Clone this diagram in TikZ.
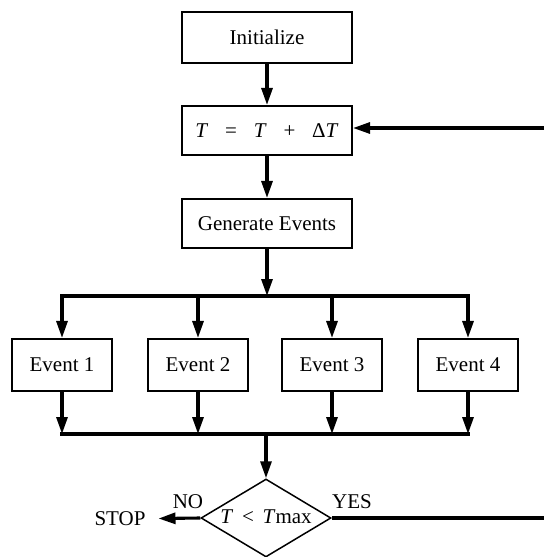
\documentclass[tikz,border=0pt]{standalone}
\usepackage{fontspec}
\setmainfont{Liberation Serif}
\usetikzlibrary{shapes.geometric,arrows.meta}
\tikzset{
  box/.style={draw, line width=2.1pt, minimum width=170pt, minimum height=49pt, inner sep=0pt, font=\fontsize{21}{25}\selectfont},
  evbox/.style={draw, line width=2.1pt, minimum width=100pt, minimum height=52pt, inner sep=0pt, font=\fontsize{21}{25}\selectfont},
  conn/.style={line width=3.1pt},
  bar/.style={conn, line cap=rect},
  arr/.style={conn, -{Triangle[length=17pt,width=11pt]}},
  lbl/.style={inner sep=0pt, font=\fontsize{21}{25}\selectfont},
}
\begin{document}
\begin{tikzpicture}[x=1pt,y=-1pt]
\useasboundingbox (0,0) rectangle (544,557);
\node[box, minimum height=51pt] (init) at (267,37.5) {Initialize};
\node[box] (tbox) at (267,130.5) {\textit{T}\hspace{0.8em}=\hspace{0.8em}\textit{T}\hspace{0.8em}+\hspace{0.8em}Δ\textit{T}};
\node[box] (gen) at (267,223.5) {Generate Events};
\node[evbox] (e1) at (62,365) {Event 1};
\node[evbox] (e2) at (198,365) {Event 2};
\node[evbox] (e3) at (332,365) {Event 3};
\node[evbox] (e4) at (468,365) {Event 4};
\coordinate (top) at (266,296);
\coordinate (tl) at (62,296);
\coordinate (tr) at (468,296);
\coordinate (bot) at (266,434);
\coordinate (bl) at (62,434);
\coordinate (br) at (468,434);
\node[diamond, draw, line width=1.5pt, minimum width=130pt, minimum height=78pt, inner sep=0pt] (dec) at (266,518) {};
\node[lbl] (dtext) at (266,517) {\textit{T}\, <\, \textit{T}max};
\node[lbl, outer xsep=13pt] (stop) at (120,519) {STOP};
\node[lbl] (no) at (188,502) {NO};
\node[lbl] (yes) at (352,502) {YES};
\coordinate (rin) at (544,128);
\coordinate (rout) at (544,518);
% connectors
\draw[arr] (init) -- (tbox);
\draw[arr] (tbox) -- (gen);
\draw[arr] (gen) -- (gen |- top);
\draw[bar] (tl) -- (tr);
\draw[arr] (tl) -- (e1);
\draw[arr] (e2 |- top) -- (e2);
\draw[arr] (e3 |- top) -- (e3);
\draw[arr] (tr) -- (e4);
\draw[arr] (e1) -- (bl);
\draw[arr] (e2) -- (e2 |- bot);
\draw[arr] (e3) -- (e3 |- bot);
\draw[arr] (e4) -- (br);
\draw[bar] (bl) -- (br);
\draw[arr] (bot) -- (dec);
\draw[arr] (dec.west) -- (stop);
\draw[conn] (dec.east) -- (rout);
\draw[arr] (rin) -- (tbox.east |- rin);
\end{tikzpicture}
\end{document}
